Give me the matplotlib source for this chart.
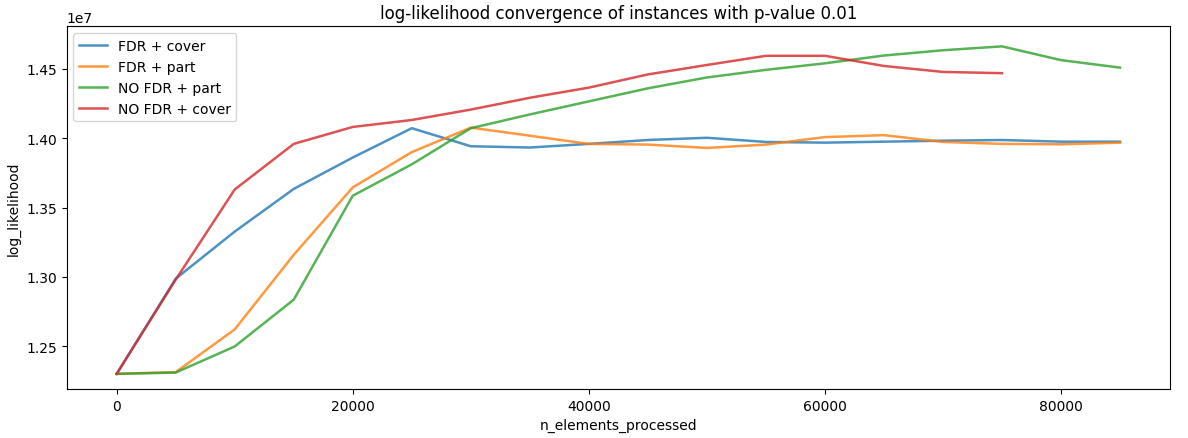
import numpy as np
import matplotlib
matplotlib.use("Agg")
import matplotlib.pyplot as plt


# n_elements_processed
n_elements = [0, 5000, 10000, 15000, 20000, 25000, 30000, 35000, 40000,
              45000, 50000, 55000, 60000, 65000, 70000, 75000, 80000, 85000]

# log_likelihood values (x1e7)
fdr_cover = [1.2303, 1.2988, 1.3327, 1.3634, 1.3860, 1.4071, 1.3941, 1.3932, 1.3958,
             1.3986, 1.4002, 1.3972, 1.3967, 1.3974, 1.3981, 1.3986, 1.3974, 1.3974]
fdr_part = [1.2303, 1.2315, 1.2623, 1.3160, 1.3645, 1.3899, 1.4075, 1.4017, 1.3958,
            1.3953, 1.3929, 1.3953, 1.4007, 1.4021, 1.3972, 1.3958, 1.3955, 1.3967]
nofdr_part = [1.2303, 1.2312, 1.2500, 1.2837, 1.3585, 1.3811, 1.4071, 1.4170, 1.4264,
              1.4358, 1.4436, 1.4491, 1.4538, 1.4594, 1.4632, 1.4660, 1.4561, 1.4507]
nofdr_cover = [1.2303, 1.2981, 1.3630, 1.3958, 1.4080, 1.4130, 1.4205, 1.4290, 1.4363,
               1.4458, 1.4526, 1.4592, 1.4592, 1.4519, 1.4476, 1.4467]

labels = ["FDR + cover", "FDR + part", "NO FDR + part", "NO FDR + cover"]

fig = plt.figure(figsize=(11.88, 4.39), dpi=100)
ax = fig.add_axes([0.056, 0.112, 0.929, 0.826])

series = [fdr_cover, fdr_part, nofdr_part, nofdr_cover]
for vals, lab in zip(series, labels):
    y = np.array(vals) * 1e7
    ax.plot(n_elements[:len(y)], y, label=lab, alpha=0.8, linewidth=1.8)

ax.set_title("log-likelihood convergence of instances with p-value 0.01", fontsize=12)
ax.set_xlabel("n_elements_processed", fontsize=10)
ax.set_ylabel("log_likelihood", fontsize=10)
ax.tick_params(labelsize=10)
ax.set_ylim(1.2195e7, 1.4805e7)
ax.legend(loc="upper left", fontsize=10)

fig.savefig("out.png", dpi=100)
